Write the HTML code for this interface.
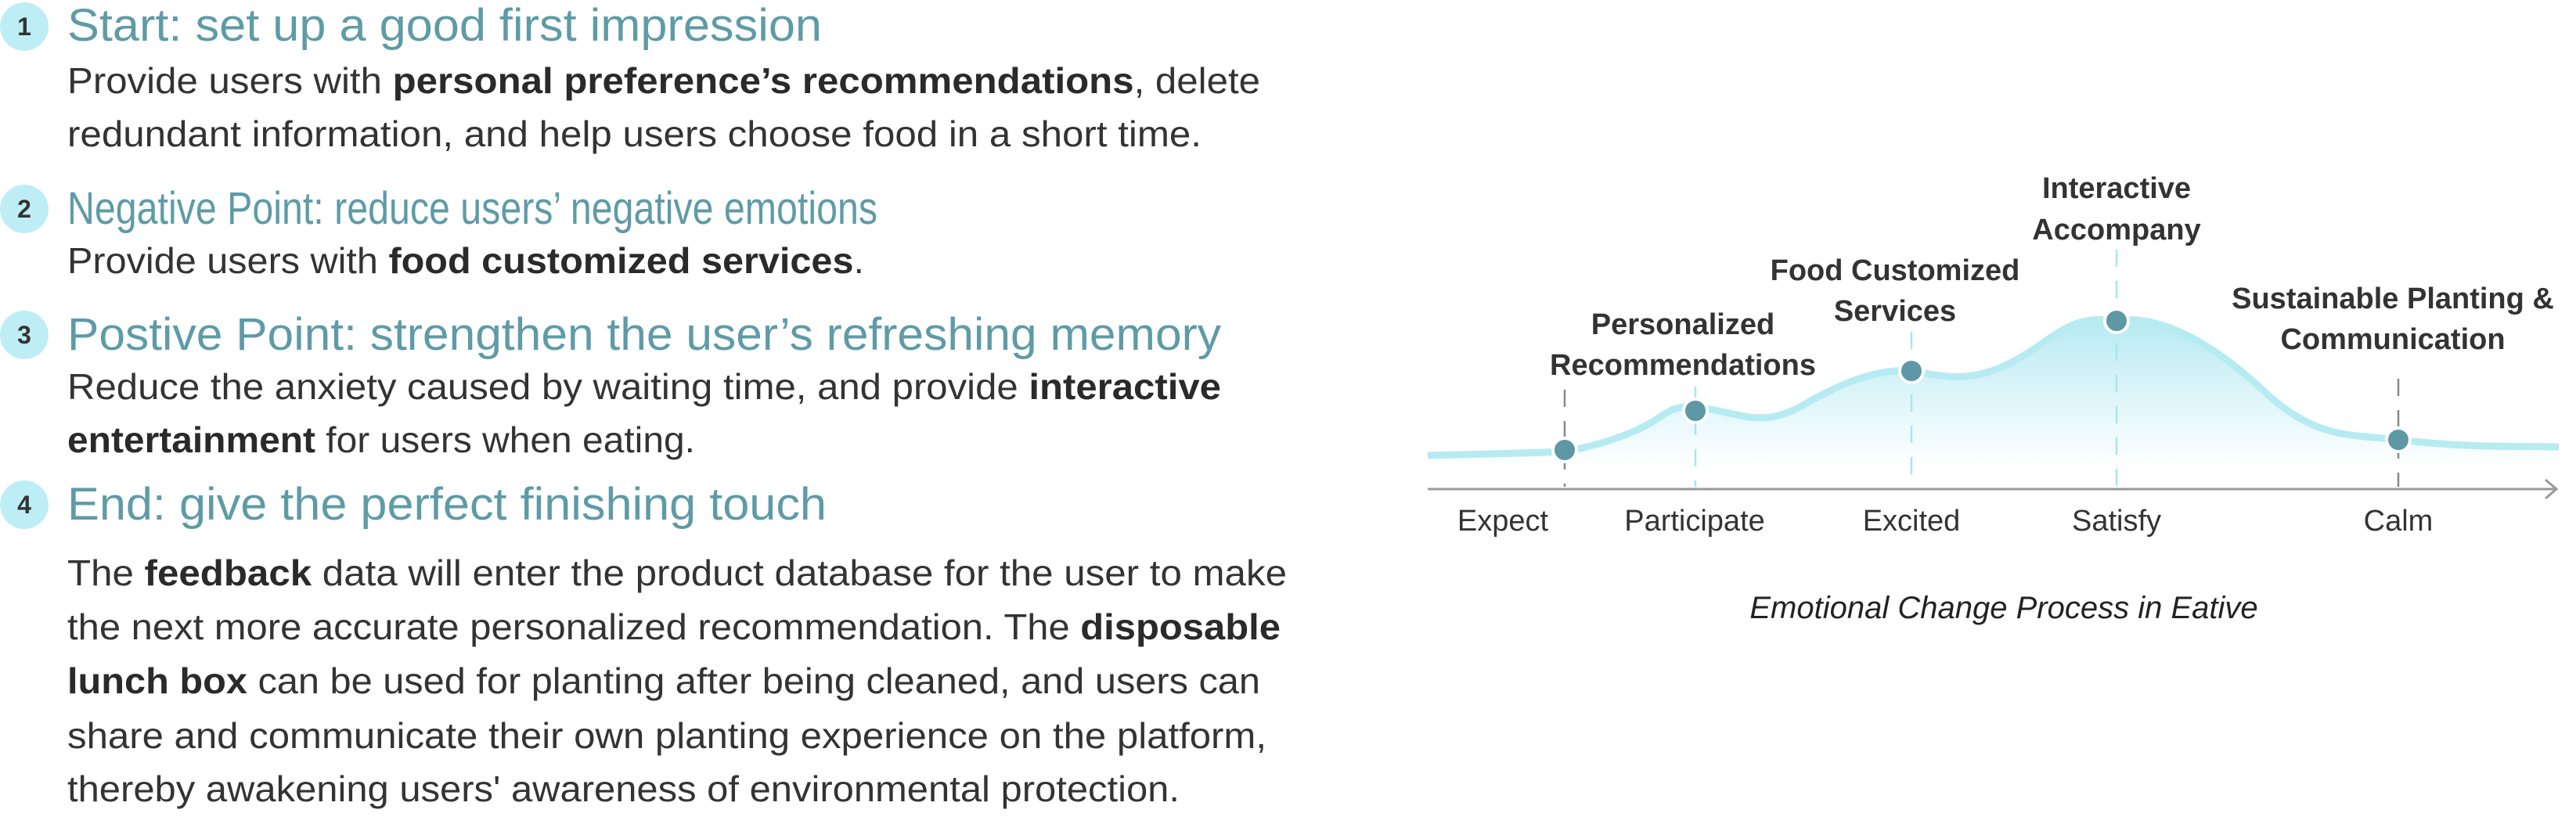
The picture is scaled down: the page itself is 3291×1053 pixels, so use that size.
<!DOCTYPE html>
<html><head><meta charset="utf-8"><style>
html,body{margin:0;padding:0;background:#fff;width:3291px;height:1053px;overflow:hidden}
svg{display:block}
.h{font-family:"Liberation Sans",sans-serif;font-size:58px;fill:#5e9ba6}
.b{font-family:"Liberation Sans",sans-serif;font-size:46px;fill:#333}
.bd{font-weight:bold;fill:#2a2a2a}
.n{font-family:"Liberation Sans",sans-serif;font-size:32px;font-weight:bold;fill:#333}
.lab{font-family:"Liberation Sans",sans-serif;font-size:38px;font-weight:bold;fill:#333}
.ax{font-family:"Liberation Sans",sans-serif;font-size:38px;fill:#333}
</style></head><body>
<svg width="3291" height="1053" viewBox="0 0 3291 1053" xmlns="http://www.w3.org/2000/svg">
<defs>
<linearGradient id="g" x1="0" y1="0" x2="0" y2="1">
<stop offset="0" stop-color="#b6eaf2"/><stop offset="1" stop-color="#ffffff" stop-opacity="0.9"/>
</linearGradient>
</defs>
<g fill="#bdeef5">
<circle cx="31" cy="34" r="31"/><circle cx="31" cy="267" r="31"/><circle cx="31" cy="428" r="31"/><circle cx="31" cy="645" r="31"/>
</g>
<text class="n" x="31" y="45" text-anchor="middle">1</text>
<text class="n" x="31" y="278" text-anchor="middle">2</text>
<text class="n" x="31" y="439" text-anchor="middle">3</text>
<text class="n" x="31" y="656" text-anchor="middle">4</text>

<text class="h" x="86" y="52" textLength="964" lengthAdjust="spacingAndGlyphs">Start: set up a good first impression</text>
<text class="b" x="86" y="119" textLength="1524" lengthAdjust="spacingAndGlyphs">Provide users with <tspan class="bd">personal preference’s recommendations</tspan>, delete</text>
<text class="b" x="86" y="187" textLength="1449" lengthAdjust="spacingAndGlyphs">redundant information, and help users choose food in a short time.</text>

<text class="h" x="86" y="286" textLength="1035" lengthAdjust="spacingAndGlyphs">Negative Point: reduce users’ negative emotions</text>
<text class="b" x="86" y="349" textLength="1018" lengthAdjust="spacingAndGlyphs">Provide users with <tspan class="bd">food customized services</tspan>.</text>

<text class="h" x="86" y="447" textLength="1474" lengthAdjust="spacingAndGlyphs">Postive Point: strengthen the user’s refreshing memory</text>
<text class="b" x="86" y="510" textLength="1474" lengthAdjust="spacingAndGlyphs">Reduce the anxiety caused by waiting time, and provide <tspan class="bd">interactive</tspan></text>
<text class="b" x="86" y="578" textLength="802" lengthAdjust="spacingAndGlyphs"><tspan class="bd">entertainment</tspan> for users when eating.</text>

<text class="h" x="86" y="664" textLength="970" lengthAdjust="spacingAndGlyphs">End: give the perfect finishing touch</text>
<text class="b" x="86" y="748" textLength="1558" lengthAdjust="spacingAndGlyphs">The <tspan class="bd">feedback</tspan> data will enter the product database for the user to make</text>
<text class="b" x="86" y="817" textLength="1550" lengthAdjust="spacingAndGlyphs">the next more accurate personalized recommendation. The <tspan class="bd">disposable</tspan></text>
<text class="b" x="86" y="886" textLength="1524" lengthAdjust="spacingAndGlyphs"><tspan class="bd">lunch box</tspan> can be used for planting after being cleaned, and users can</text>
<text class="b" x="86" y="956" textLength="1532" lengthAdjust="spacingAndGlyphs">share and communicate their own planting experience on the platform,</text>
<text class="b" x="86" y="1024" textLength="1421" lengthAdjust="spacingAndGlyphs">thereby awakening users' awareness of environmental protection.</text>

<path d="M1824,582 C1900,580 1960,579 1999,577 C2080,562 2110,540 2130,527 C2150,515 2170,520 2200,526 C2240,535 2260,540 2300,520 C2350,490 2400,470 2442,474 C2480,480 2510,490 2560,468 C2620,440 2640,400 2700,410 C2760,400 2830,440 2899,506 C2960,560 3000,555 3064,562 C3150,572 3200,570 3269,571 L3269,600 L1824,600 Z" fill="url(#g)"/>
<path d="M1824,582 C1900,580 1960,579 1999,577 C2080,562 2110,540 2130,527 C2150,515 2170,520 2200,526 C2240,535 2260,540 2300,520 C2350,490 2400,470 2442,474 C2480,480 2510,490 2560,468 C2620,440 2640,400 2700,410 C2760,400 2830,440 2899,506 C2960,560 3000,555 3064,562 C3150,572 3200,570 3269,571" fill="none" stroke="#b6ebf2" stroke-width="9"/>
<g stroke-width="2.5" stroke-dasharray="22,18" fill="none">
<line x1="1999" y1="498" x2="1999" y2="622" stroke="#888"/>
<line x1="2166" y1="494" x2="2166" y2="622" stroke="#a8e6ef"/>
<line x1="2442" y1="424" x2="2442" y2="622" stroke="#a8e6ef"/>
<line x1="2704" y1="319" x2="2704" y2="622" stroke="#a8e6ef"/>
<line x1="3064" y1="484" x2="3064" y2="622" stroke="#888"/>
</g>
<line x1="1824" y1="625" x2="3265" y2="625" stroke="#999" stroke-width="3"/>
<polyline points="3252,613 3266,625 3252,637" fill="none" stroke="#999" stroke-width="3"/>
<g fill="#5e98a4" stroke="#fff" stroke-width="4">
<circle cx="1999" cy="575" r="15"/><circle cx="2166" cy="525" r="15"/><circle cx="2442" cy="474" r="15"/><circle cx="2704" cy="410" r="15"/><circle cx="3064" cy="562" r="15"/>
</g>
<g class="ax" text-anchor="middle">
<text x="1920" y="678">Expect</text>
<text x="2165" y="678">Participate</text>
<text x="2442" y="678">Excited</text>
<text x="2704" y="678">Satisfy</text>
<text x="3064" y="678">Calm</text>
</g>
<g class="lab" text-anchor="middle">
<text x="2704" y="253">Interactive</text>
<text x="2704" y="306">Accompany</text>
<text x="2421" y="358">Food Customized</text>
<text x="2421" y="410">Services</text>
<text x="2150" y="427">Personalized</text>
<text x="2150" y="479">Recommendations</text>
<text x="3057" y="394">Sustainable Planting &amp;</text>
<text x="3057" y="446">Communication</text>
</g>
<text x="2560" y="790" text-anchor="middle" font-family="Liberation Sans,sans-serif" font-size="40" font-style="italic" fill="#222">Emotional Change Process in Eative</text>
</svg>
</body></html>
